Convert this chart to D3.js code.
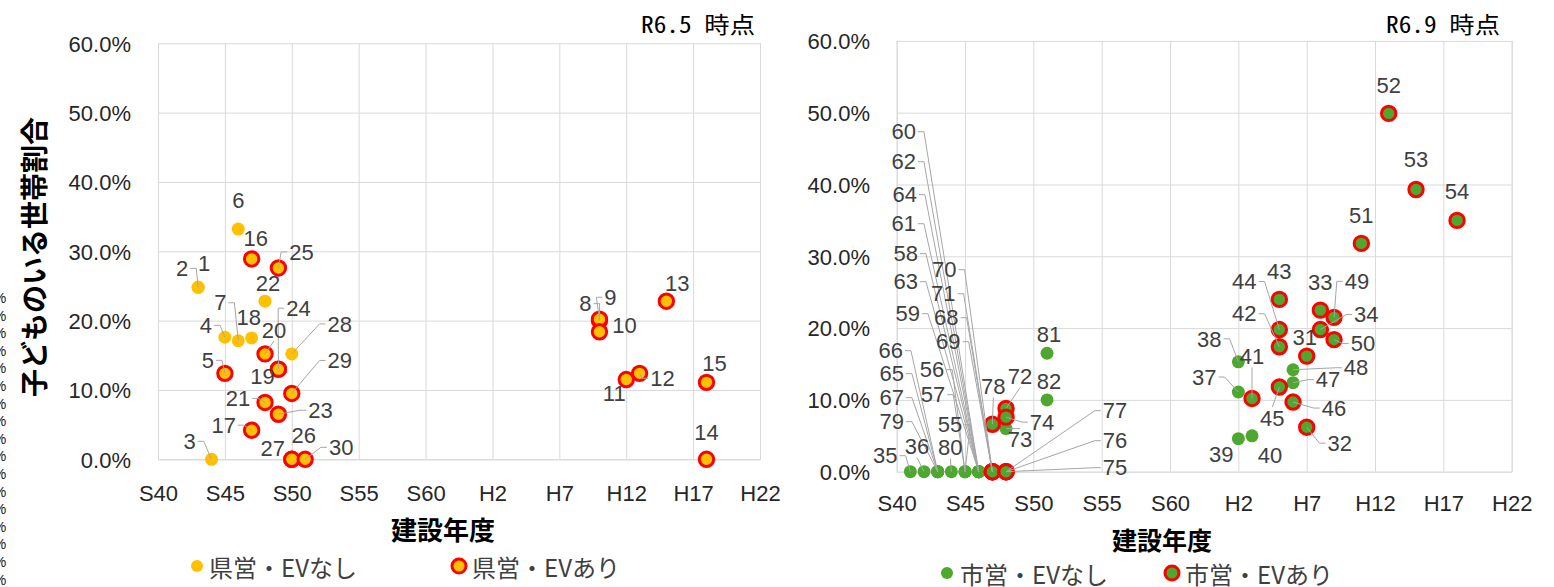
<!DOCTYPE html>
<html><head><meta charset="utf-8">
<script src="https://cdn.jsdelivr.net/npm/d3@7"></script>
<style>body{margin:0;background:#fff;overflow:hidden}svg{display:block}</style>
</head><body>
<svg id="c" width="1554" height="587"></svg>
<script>
// ---------- shared axis data ----------
const xTickYears  = [1965,1970,1975,1980,1985,1990,1995,2000,2005,2010];
const xTickLabels = ["S40","S45","S50","S55","S60","H2","H7","H12","H17","H22"];
const yTickValues = [0,0.1,0.2,0.3,0.4,0.5,0.6];

// ---------- left chart: 県営 (R6.5) ----------
const kenIds  = [1,2,3,4,5,6,7,8,9,10,11,12,13,14,15,16,17,18,19,20,21,22,23,24,25,26,27,28,29,30];
const kenYear = [1968,1968,1969,1970,1970,1971,1971,1998,1998,1998,2000,2001,2003,2006,2006,1972,1972,1972,1974,1973,1973,1973,1974,1974,1974,1975,1975,1975,1975,1976];
const kenPct  = [24.8,24.8,0,17.6,12.4,33.2,17.1,20.0,20.2,18.4,11.5,12.4,22.8,0,11.1,28.9,4.2,17.5,13.0,15.2,8.2,22.8,6.5,13.0,27.6,0,0,15.2,9.5,0];
const kenEV   = [0,0,0,0,1,0,0,1,1,1,1,1,1,1,1,1,1,0,1,1,1,0,1,1,1,1,1,0,1,1];
// label offsets (px) relative to point, and which labels carry leader lines
const kenLabelDx = [6,-16,-22,-19,-17,0,-18,-14,11,25,-12,23,11,0,8,4,-28,-3,-16,9,-27,3,42,20,23,12,-19,48,48,36];
const kenLabelDy = [-24,-19,-18,-12,-13,-29,-38,-17,-22,-6,14,5,-18,-27,-19,-21,-5,-21,7,-24,-4,-18,-4,-61,-16,-24,-11,-30,-33,-12];
const kenLeader  = [2,3,4,5,7,8,9,12,17,20,21,23,24,25,28,29,30];

// ---------- right chart: 市営 (R6.9) ----------
const shiIds  = [31,32,33,34,35,36,37,38,39,40,41,42,43,44,45,46,47,48,49,50,51,52,53,54,55,56,57,58,59,60,61,62,63,64,65,66,67,68,69,70,71,72,73,74,75,76,77,78,79,80,81,82];
const shiYear = [1995,1995,1996,1996,1966,1967,1990,1990,1990,1991,1991,1993,1993,1993,1993,1994,1994,1994,1997,1997,1999,2001,2003,2006,1970,1970,1970,1971,1971,1971,1971,1971,1971,1971,1968,1968,1968,1972,1972,1972,1972,1973,1973,1973,1973,1973,1973,1972,1968,1969,1976,1976];
const shiPct  = [16.1,6.2,22.5,19.8,0,0,11.1,15.3,4.6,5.0,10.2,17.4,24.0,19.8,11.8,9.7,12.4,14.2,21.5,18.4,31.8,49.9,39.3,35.0,0,0,0,0,0,0,0,0,0,0,0,0,0,0,0,0,0,8.8,6.0,7.6,0,0,0,6.6,0,0,16.5,10.0];
const shiEV   = [1,1,1,1,0,0,0,0,0,0,1,1,1,1,1,1,0,0,1,1,1,1,1,1,0,0,0,0,0,0,0,0,0,0,0,0,0,1,1,1,1,1,0,1,1,1,1,1,0,0,0,0];
const shiLabelDx = [-2,33,0,46,-25,-7,-34,-29,-17,18,0,-35,0,-35,-7,41,35,63,23,29,0,0,0,0,-15,-33,-32,-73,-71,-75,-75,-75,-73,-74,-46,-47,-46,-46,-44,-48,-49,14,14,36,109,109,109,1,-46,-1,2,2];
const shiLabelDy = [-19,16,-28,-15,-16,-25,-15,-23,16,19,-42,-33,-28,-48,31,6,-3,-2,-36,4,-28,-28,-30,-29,-47,-102,-77,-218,-158,-340,-248,-310,-190,-277,-98,-121,-74,-154,-130,-202,-178,-32,11,5,-4,-31,-61,-38,-50,-24,-19,-19];
const shiLeader  = [32,34,35,36,37,38,41,42,44,45,46,47,48,49,50,55,56,57,58,59,60,61,62,63,64,65,66,67,68,69,70,71,72,73,74,75,76,77,78,79,80];

// ---------- colours ----------
const YELLOW = "#FFC000", GREEN = "#4EA72E", RED = "#FF0000";

const svg = d3.select("#c");

// clipped "%" fragments at the very left edge (tick labels of a chart cut off by the frame)
svg.append("g").selectAll("text").data(d3.range(17)).join("text")
  .attr("x", -7).attr("y", d => 303 + d * 17.6)
  .attr("font-family", "Liberation Sans, Arial, sans-serif").attr("font-size", 15)
  .attr("fill", "#262626").text("%");

function leaderPath(px, py, lx, ly, txt, fs) {
  const hw = txt.length * fs * 0.556 / 2 + 2;
  const hh = fs * 0.5;
  const dx = px - lx, dy = py - ly;
  if (Math.abs(dx) > hw) {
    const s = Math.sign(dx);
    const x0 = lx + s * hw, x1 = x0 + s * 6;
    return `M${x0},${ly}L${x1},${ly}L${px},${py}`;
  }
  const s = Math.sign(dy) || 1;
  return `M${lx},${ly + s * hh}L${px},${py}`;
}

function drawChart(cfg) {
  const g = svg.append("g");
  const x = d3.scaleLinear().domain([1965, 2010]).range([cfg.left, cfg.right]);
  const y = d3.scaleLinear().domain([0, 0.6]).range([cfg.bottom, cfg.top]);
  const plotH = cfg.bottom - cfg.top, plotW = cfg.right - cfg.left;

  // horizontal grid + y labels
  const ya = g.append("g").attr("transform", `translate(${cfg.left},0)`)
    .call(d3.axisLeft(y).tickValues(yTickValues).tickFormat(d3.format(".1%")).tickSize(-plotW).tickPadding(0));
  ya.select(".domain").remove();
  ya.selectAll("line").attr("stroke", "#D9D9D9");
  ya.selectAll("text").attr("x", cfg.yLabelRight - cfg.left).attr("dy", "0.35em")
    .attr("font-family", "Liberation Sans, Arial, sans-serif").attr("font-size", 22).attr("fill", "#262626");

  // vertical grid + x labels
  const xa = g.append("g").attr("transform", `translate(0,${cfg.bottom})`)
    .call(d3.axisBottom(x).tickValues(xTickYears).tickFormat((d, i) => xTickLabels[i]).tickSize(-plotH));
  xa.select(".domain").attr("stroke", "#D9D9D9");
  xa.selectAll("line").attr("stroke", "#D9D9D9");
  xa.selectAll("text").attr("y", cfg.xLabelY - cfg.bottom).attr("dy", "0.35em")
    .attr("font-family", "Liberation Sans, Arial, sans-serif").attr("font-size", 22).attr("fill", "#262626");

  // x title
  g.append("text").attr("x", cfg.xTitleX).attr("y", cfg.xTitleY).attr("dy", "0.35em")
    .attr("text-anchor", "middle").attr("font-family", "Noto Sans CJK JP, sans-serif")
    .attr("font-weight", "bold").attr("font-size", cfg.xTitleSize).attr("fill", "#000").text("建設年度");

  // top-right title
  g.append("text").attr("x", cfg.titleX).attr("y", 25).attr("dy", "0.35em")
    .attr("font-family", "Noto Sans Mono CJK JP, DejaVu Sans Mono, monospace")
    .attr("font-size", 23).attr("fill", "#000")
    .attr("textLength", 114).attr("lengthAdjust", "spacingAndGlyphs").text(cfg.title);

  const pts = cfg.ids.map((id, i) => ({
    id, yr: cfg.years[i], v: cfg.pct[i] / 100, ev: cfg.ev[i],
    dx: cfg.ldx[i], dy: cfg.ldy[i], leader: cfg.leaders.includes(id)
  }));

  // markers: series without EV first, then with EV
  const mk = g.append("g");
  mk.selectAll("circle.no").data(pts.filter(p => !p.ev)).join("circle")
    .attr("cx", p => x(p.yr)).attr("cy", p => y(p.v)).attr("r", 6.5).attr("fill", cfg.fill);
  mk.selectAll("circle.ev").data(pts.filter(p => p.ev)).join("circle")
    .attr("cx", p => x(p.yr)).attr("cy", p => y(p.v)).attr("r", 7.2)
    .attr("fill", cfg.fill).attr("stroke", RED).attr("stroke-width", 3);

  // leader lines
  g.append("g").selectAll("path").data(pts.filter(p => p.leader)).join("path")
    .attr("d", p => {
      const px = x(p.yr), py = y(p.v);
      return leaderPath(px, py, px + p.dx, py + p.dy, String(p.id), cfg.labelSize);
    })
    .attr("fill", "none").attr("stroke", "#A6A6A6").attr("stroke-width", 1);

  // data labels
  g.append("g").selectAll("text").data(pts).join("text")
    .attr("x", p => x(p.yr) + p.dx).attr("y", p => y(p.v) + p.dy).attr("dy", "0.35em")
    .attr("text-anchor", "middle").attr("font-family", "Liberation Sans, Arial, sans-serif")
    .attr("font-size", cfg.labelSize).attr("fill", "#404040").text(p => p.id);

  // legend
  const lg = g.append("g");
  cfg.legend.forEach(L => {
    lg.append("circle").attr("cx", L.cx).attr("cy", cfg.legendY - 3).attr("r", L.ev ? 7 : 6)
      .attr("fill", cfg.fill).attr("stroke", L.ev ? RED : "none").attr("stroke-width", 3);
    lg.append("text").attr("x", L.tx).attr("y", cfg.legendY).attr("dy", "0.35em")
      .attr("font-family", "Noto Sans CJK JP, sans-serif").attr("font-size", 24)
      .attr("fill", "#404040").text(L.text);
  });
}

drawChart({
  left: 158, right: 760, top: 43.3, bottom: 459.3,
  yLabelRight: 131, xLabelY: 493, xTitleX: 443, xTitleY: 531, xTitleSize: 26,
  titleX: 641, title: "R6.5 時点",
  ids: kenIds, years: kenYear, pct: kenPct, ev: kenEV,
  ldx: kenLabelDx, ldy: kenLabelDy, leaders: kenLeader, labelSize: 22,
  fill: YELLOW, legendY: 569,
  legend: [{cx: 197, tx: 209, ev: 0, text: "県営・EVなし"}, {cx: 459, tx: 472, ev: 1, text: "県営・EVあり"}]
});

drawChart({
  left: 896.7, right: 1511.7, top: 40.9, bottom: 471.7,
  yLabelRight: 870, xLabelY: 503, xTitleX: 1162, xTitleY: 541, xTitleSize: 25,
  titleX: 1386, title: "R6.9 時点",
  ids: shiIds, years: shiYear, pct: shiPct, ev: shiEV,
  ldx: shiLabelDx, ldy: shiLabelDy, leaders: shiLeader, labelSize: 22,
  fill: GREEN, legendY: 576,
  legend: [{cx: 947, tx: 960, ev: 0, text: "市営・EVなし"}, {cx: 1172, tx: 1185, ev: 1, text: "市営・EVあり"}]
});

// y-axis title (left chart only)
svg.append("text").attr("transform", "translate(35,257) rotate(-90)").attr("dy", "0.35em")
  .attr("text-anchor", "middle").attr("font-family", "Noto Sans CJK JP, sans-serif")
  .attr("font-weight", "bold").attr("font-size", 28).attr("fill", "#000").text("子どものいる世帯割合");
</script>
</body></html>
